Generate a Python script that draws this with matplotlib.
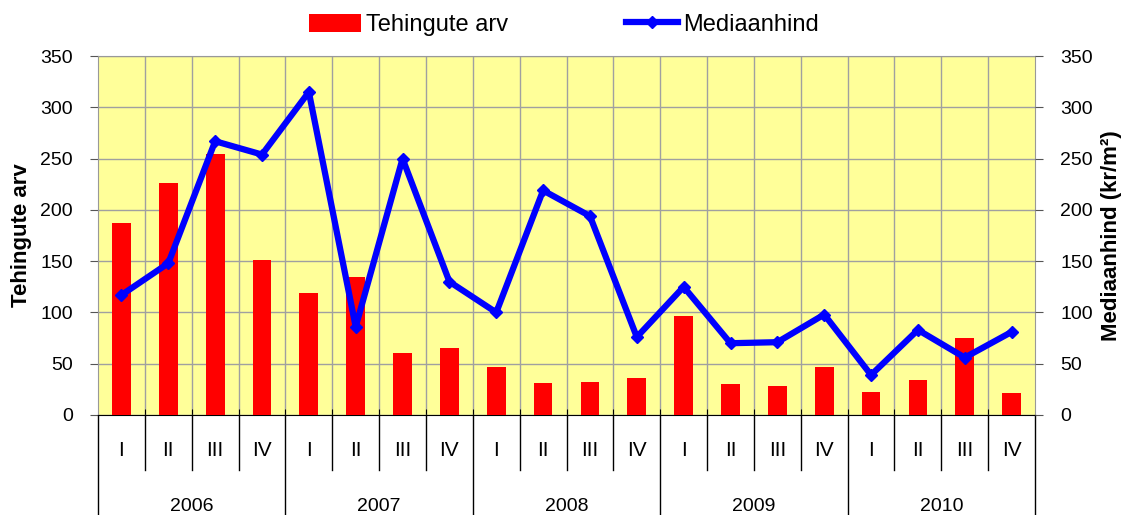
import matplotlib.pyplot as plt
from matplotlib.lines import Line2D
from matplotlib.patches import Patch

plt.rcParams['font.family'] = ['Liberation Sans', 'DejaVu Sans']

# Data
years = ["2006", "2007", "2008", "2009", "2010"]
quarters = ["I", "II", "III", "IV"]
tehingute_arv = [187, 226, 255, 151,
                 119, 135, 60, 65,
                 47, 31, 32, 36,
                 97, 30, 28, 47,
                 22, 34, 75, 21]
mediaanhind = [117, 148, 267, 254,
               315, 86, 250, 130,
               100, 219, 194, 76,
               125, 70, 71, 98,
               39, 83, 56, 81]

n = len(tehingute_arv)
x = list(range(n))

fig = plt.figure(figsize=(11.28, 5.15), dpi=100)
ax = fig.add_axes([0.0869, 0.1942, 0.8307, 0.6968])
ax.set_facecolor("#FFFF99")

ax.bar(x, tehingute_arv, width=0.4, color="#FF0000", zorder=3)
ax.set_xlim(-0.5, n - 0.5)
ax.set_ylim(0, 350)
ax.set_yticks(range(0, 351, 50))
ax.tick_params(axis="y", labelsize=14, direction="out", length=6, pad=12, color="#555555")
ax.set_xticks([i + 0.5 for i in range(n - 1)])
ax.set_xticklabels([])
ax.tick_params(axis="x", direction="in", length=4, color="black")
ax.grid(True, color="#A0A0A0", linewidth=1.0, zorder=0)
ax.set_axisbelow(True)
for s in ["top", "right", "left"]:
    ax.spines[s].set_color("#999999")
ax.spines["bottom"].set_color("black")
ax.set_ylabel("Tehingute arv", fontsize=16, fontweight="bold", labelpad=6)

ax2 = ax.twinx()
ax2.plot(x, mediaanhind, color="#0000FF", linewidth=4.5, marker="D", markersize=6, zorder=4)
ax2.set_ylim(0, 350)
ax2.set_yticks(range(0, 351, 50))
ax2.tick_params(axis="y", labelsize=14, direction="out", length=6, pad=12, color="#555555")
for s in ["top", "right", "left", "bottom"]:
    ax2.spines[s].set_visible(False)
ax2.set_ylabel("Mediaanhind (kr/m²)", fontsize=16, fontweight="bold", labelpad=6)

# Two-level category axis
trans = ax.get_xaxis_transform()
for i in range(n):
    ax.text(i, -0.098, quarters[i % 4], transform=trans, ha="center", va="center", fontsize=15)
for k in range(n + 1):
    xb = k - 0.5
    if k % 4 == 0:
        ax.plot([xb, xb], [0, -0.285], transform=trans, color="black", linewidth=1, clip_on=False)
    else:
        ax.plot([xb, xb], [0, -0.153], transform=trans, color="black", linewidth=1, clip_on=False)
for j, yr in enumerate(years):
    ax.text(j * 4 + 1.5, -0.255, yr, transform=trans, ha="center", va="center", fontsize=14)

handles = [Patch(facecolor="#FF0000"),
           Line2D([0], [0], color="#0000FF", linewidth=4.5, marker="D", markersize=6)]
fig.legend(handles, ["Tehingute arv", "Mediaanhind"], loc="upper center",
           bbox_to_anchor=(0.5, 1.015), ncol=2, frameon=False, fontsize=17,
           handlelength=2.2, handleheight=0.8, handletextpad=0.2, columnspacing=5.0)

fig.savefig("out.png", dpi=100)
